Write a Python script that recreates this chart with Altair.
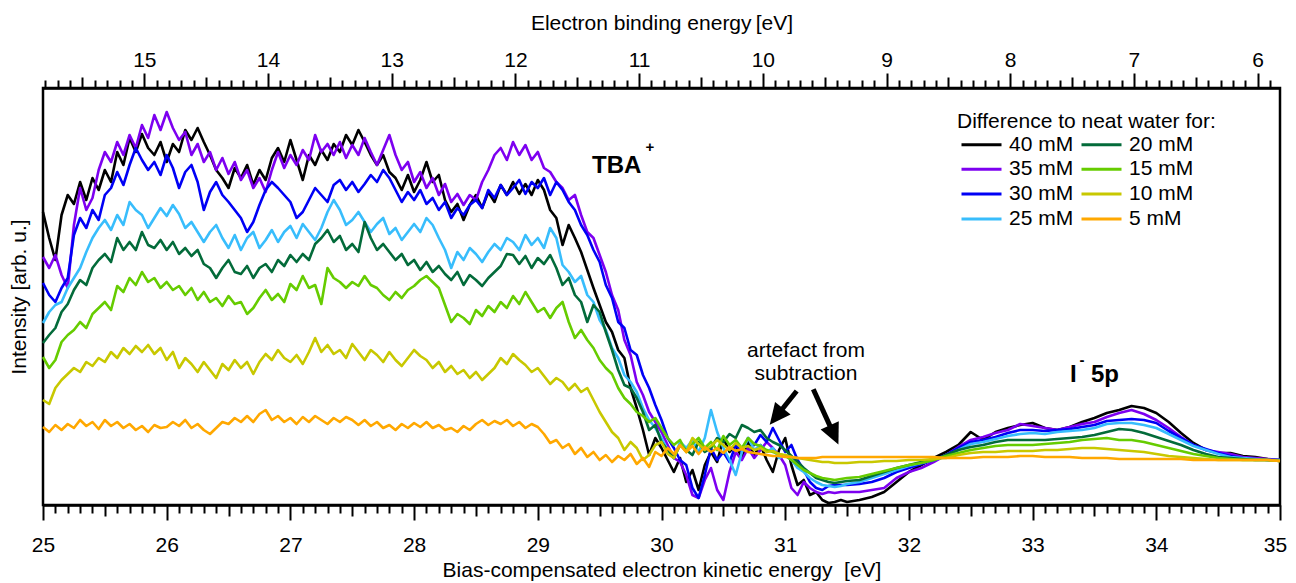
import altair as alt
import pandas as pd

# ---------------- energy grid (kinetic energy, eV) ----------------
KE_FINE = [round(25 + 0.05 * i, 2) for i in range(130)]    # 25.00 ... 31.45
KE_COARSE = [round(31.5 + 0.1 * i, 1) for i in range(36)]  # 31.5 ... 35.0
KE = KE_FINE + KE_COARSE

# ---------------- difference spectra (arb. u.) ----------------
c40 = [
    288, 262, 240, 285, 305, 296, 318, 300, 322, 310,
    330, 318, 348, 335, 362, 348, 366, 352, 345, 358,
    338, 356, 348, 370, 360, 372, 358, 345, 330, 322,
    312, 332, 322, 335, 315, 330, 320, 342, 352, 338,
    360, 340, 320, 345, 335, 350, 340, 356, 348, 365,
    355, 370, 358, 345, 335, 345, 328, 322, 310, 325,
    308, 320, 338, 318, 325, 300, 288, 296, 280, 295,
    305, 292, 308, 298, 315, 305, 318, 306, 316, 305,
    320, 310, 290, 282, 255, 275, 262, 248, 230, 212,
    195, 178, 168, 150, 142, 112, 92, 70, 45, 62,
    52, 40, 28, 42, 18, 30, 10, 35, 48, 38,
    62, 48, 55, 42, 58, 45, 55, 40, 28, 50,
    62, 35, 15, 20, 5, 8, 0, -3, -2, 0,
    -2, 0, 3, 8, 18, 28, 35, 42, 48, 55,
    68, 60, 68, 72, 75, 77, 72, 70, 73, 78,
    82, 87, 90, 94, 92, 87, 78, 67, 57, 50,
    47, 47, 44, 43, 41, 40]

c35 = [
    243, 232, 245, 225, 212, 275, 312, 290, 302, 330,
    348, 338, 358, 345, 365, 352, 375, 362, 385, 370,
    388, 372, 360, 368, 345, 356, 338, 348, 330, 342,
    326, 338, 320, 330, 312, 322, 308, 330, 348, 332,
    345, 335, 350, 340, 365, 348, 356, 345, 358, 342,
    355, 345, 362, 348, 335, 350, 365, 345, 330, 338,
    318, 328, 312, 322, 305, 316, 298, 306, 295, 305,
    300, 318, 330, 345, 352, 340, 358, 345, 355, 340,
    348, 332, 328, 318, 312, 300, 305, 285, 268, 262,
    245, 228, 205, 190, 160, 145, 118, 105, 88, 78,
    68, 55, 42, 38, 25, 5, 2, 20, 32, 10,
    0, 28, 48, 40, 52, 42, 50, 58, 52, 45,
    35, 12, 5, 18, 12, 8, 6, 8, 7, 8,
    8, 8, 10, 12, 22, 28, 32, 38, 45, 53,
    60, 63, 67, 70, 76, 74, 72, 70, 73, 76,
    78, 83, 87, 90, 86, 80, 72, 63, 55, 50,
    48, 46, 43, 42, 41, 40]

c30 = [
    217, 205, 198, 212, 222, 265, 282, 272, 290, 280,
    305, 312, 328, 315, 335, 352, 340, 330, 338, 325,
    345, 332, 312, 328, 335, 318, 290, 308, 318, 305,
    298, 290, 282, 268, 278, 295, 310, 318, 312, 305,
    298, 282, 288, 300, 312, 305, 298, 315, 320, 310,
    318, 308, 316, 325, 318, 330, 322, 310, 298, 308,
    300, 310, 296, 302, 290, 298, 282, 292, 285, 295,
    300, 292, 310, 302, 315, 305, 312, 320, 306, 318,
    312, 322, 305, 318, 310, 298, 290, 275, 265, 250,
    238, 215, 202, 178, 172, 150, 145, 125, 112, 95,
    80, 62, 52, 40, 35, 12, 2, 25, 52, 40,
    48, 38, 55, 48, 62, 55, 65, 58, 72, 60,
    48, 55, 40, 30, 18, 12, 10, 14, 15, 15,
    15, 16, 18, 22, 28, 32, 36, 40, 45, 52,
    58, 60, 63, 67, 70, 70, 69, 70, 71, 73,
    75, 79, 80, 81, 80, 77, 69, 62, 55, 51,
    47, 44, 42, 41, 40, 40]

c25 = [
    177, 188, 195, 198, 212, 222, 232, 248, 262, 272,
    280, 270, 285, 275, 298, 290, 285, 272, 282, 292,
    284, 295, 286, 272, 278, 268, 258, 268, 275, 262,
    252, 265, 250, 262, 268, 252, 260, 270, 258, 268,
    274, 262, 276, 268, 260, 272, 288, 300, 290, 275,
    280, 288, 278, 268, 276, 282, 266, 272, 260, 268,
    276, 268, 282, 275, 262, 250, 232, 248, 240, 252,
    246, 238, 248, 256, 250, 262, 258, 250, 265, 255,
    262, 252, 272, 262, 235, 228, 218, 224, 205, 198,
    180, 170, 152, 142, 125, 118, 108, 92, 80, 72,
    62, 50, 42, 58, 52, 60, 48, 62, 90, 68,
    52, 40, 25, 48, 62, 50, 55, 48, 52, 42,
    45, 40, 32, 28, 22, 18, 15, 14, 13, 14,
    16, 18, 22, 26, 30, 34, 37, 40, 44, 50,
    56, 58, 61, 64, 66, 67, 66, 68, 69, 70,
    72, 76, 77, 77, 75, 72, 66, 60, 54, 50,
    46, 43, 42, 41, 40, 40]

c20 = [
    157, 165, 172, 188, 196, 210, 220, 215, 232, 240,
    246, 238, 262, 250, 258, 250, 268, 255, 252, 260,
    250, 258, 246, 252, 244, 250, 236, 232, 222, 232,
    240, 228, 226, 234, 222, 232, 236, 228, 240, 234,
    245, 238, 246, 240, 256, 262, 270, 258, 264, 250,
    256, 248, 278, 262, 250, 256, 248, 240, 246, 235,
    240, 230, 238, 228, 234, 226, 220, 228, 215, 225,
    220, 214, 222, 228, 234, 246, 245, 236, 244, 232,
    242, 236, 245, 232, 215, 222, 205, 198, 178, 195,
    188, 168, 150, 130, 115, 112, 102, 88, 70, 75,
    58, 50, 42, 55, 50, 45, 58, 48, 52, 62,
    58, 66, 62, 75, 72, 68, 70, 62, 58, 55,
    50, 44, 38, 32, 27, 22, 20, 18, 17, 18,
    19, 20, 24, 28, 32, 35, 38, 40, 45, 50,
    53, 55, 58, 60, 60, 60, 60, 61, 62, 63,
    65, 68, 71, 70, 67, 63, 59, 55, 50, 46,
    43, 42, 41, 40, 40, 39]

c15 = [
    143, 132, 140, 158, 165, 170, 178, 172, 186, 192,
    198, 190, 214, 208, 222, 215, 228, 218, 222, 212,
    218, 210, 214, 205, 212, 200, 208, 198, 202, 194,
    204, 196, 198, 186, 192, 202, 210, 200, 206, 198,
    216, 210, 224, 212, 215, 196, 232, 222, 218, 212,
    218, 214, 224, 215, 212, 205, 200, 208, 202, 210,
    214, 220, 224, 218, 212, 195, 178, 186, 182, 176,
    190, 184, 194, 188, 198, 192, 204, 196, 208, 198,
    188, 192, 182, 192, 198, 178, 162, 170, 160, 152,
    140, 132, 126, 112, 102, 96, 88, 84, 78, 82,
    72, 62, 55, 60, 48, 56, 62, 52, 58, 50,
    64, 55, 60, 52, 62, 56, 54, 50, 48, 46,
    44, 40, 35, 30, 27, 24, 22, 21, 20, 21,
    22, 23, 26, 29, 32, 35, 37, 40, 44, 47,
    50, 52, 54, 55, 55, 55, 56, 57, 58, 60,
    61, 62, 60, 60, 58, 55, 52, 49, 46, 44,
    42, 41, 40, 40, 40, 39]

c10 = [
    100, 96, 112, 120, 126, 132, 128, 138, 134, 142,
    138, 148, 142, 152, 146, 154, 148, 155, 146, 152,
    140, 148, 132, 142, 136, 128, 138, 130, 122, 136,
    130, 140, 132, 138, 126, 138, 146, 140, 150, 142,
    138, 145, 136, 148, 162, 148, 155, 146, 150, 142,
    156, 148, 140, 150, 145, 138, 148, 140, 134, 142,
    150, 144, 140, 132, 138, 128, 134, 126, 130, 122,
    128, 120, 126, 132, 142, 136, 146, 140, 135, 128,
    132, 124, 116, 122, 118, 110, 116, 108, 112, 100,
    88, 78, 68, 62, 50, 58, 52, 40, 45, 55,
    58, 46, 42, 55, 48, 62, 56, 50, 54, 60,
    55, 50, 57, 52, 54, 50, 52, 48, 49, 46,
    45, 43, 42, 41, 40, 39, 38, 38, 37, 37,
    37, 38, 38, 39, 39, 40, 40, 41, 42, 45,
    47, 48, 48, 49, 49, 49, 50, 50, 51, 52,
    52, 51, 50, 49, 48, 46, 44, 43, 42, 41,
    40, 40, 40, 40, 40, 39]

c5 = [
    73, 68, 75, 70, 76, 72, 80, 74, 78, 71,
    80, 74, 78, 72, 76, 70, 74, 68, 75, 72,
    73, 78, 74, 80, 72, 76, 70, 66, 72, 78,
    76, 82, 78, 84, 78, 86, 90, 80, 84, 78,
    82, 76, 83, 78, 84, 80, 76, 82, 78, 83,
    80, 75, 80, 74, 78, 72, 75, 70, 76, 72,
    77, 73, 78, 72, 75, 70, 72, 68, 74, 70,
    76, 80, 75, 79, 76, 80, 74, 78, 72, 76,
    73, 66, 57, 60, 52, 56, 46, 52, 43, 48,
    40, 45, 38, 44, 40, 46, 36, 42, 33, 48,
    44, 52, 46, 55, 48, 54, 46, 53, 48, 52,
    47, 53, 49, 51, 48, 47, 46, 45, 44, 44,
    43, 43, 42, 42, 42, 42, 43, 43, 43, 43,
    43, 43, 43, 43, 43, 43, 43, 43, 42, 42,
    42, 43, 43, 43, 44, 44, 43, 43, 43, 42,
    42, 42, 41, 41, 41, 41, 41, 41, 40, 40,
    40, 40, 40, 40, 40, 39]

CONCS = ["40 mM", "35 mM", "30 mM", "25 mM", "20 mM", "15 mM", "10 mM", "5 mM"]
SERIES = {"40 mM": c40, "35 mM": c35, "30 mM": c30, "25 mM": c25,
          "20 mM": c20, "15 mM": c15, "10 mM": c10, "5 mM": c5}
COLOR_OF = {"40 mM": "#000000", "35 mM": "#7d00f0", "30 mM": "#0000f5", "25 mM": "#38bdfc",
            "20 mM": "#036b3a", "15 mM": "#66cc00", "10 mM": "#c8c800", "5 mM": "#ffa800"}

# axis tick positions / labels
KE_TICKS = [round(25 + 0.1 * i, 1) for i in range(101)]
BE_TICKS = [round(5.9 + 0.1 * i, 1) for i in range(100)]
BE_DOMAIN = [5.819, 15.819]

# annotations (data coordinates)
ANN_KE = [31.168, 31.168]
ANN_I = [143.3, 120.0]
ANN_T = ["artefact from", "subtraction"]
BOLD_KE = [29.438, 33.302, 33.472]
BOLD_I = [327.3, 118.0, 118.0]
BOLD_T = ["TBA", "I", "5p"]
SUP_KE = [29.907, 33.400]
SUP_I = [353.3, 140.4]
SUP_T = ["+", "-"]
ARROW_KE = [31.093, 31.227]
ARROW_I = [109.0, 110.7]
ARROW_KE2 = [30.928, 31.395]
ARROW_I2 = [83.5, 65.1]
ARROW_ANG = [218.7, 155.4]

FONT = "Liberation Sans, Arial, Helvetica, sans-serif"

rows = []
for name in CONCS:
    for k, v in zip(KE, SERIES[name]):
        rows.append({"ke": k, "I": v, "c": name})
df = pd.DataFrame(rows)

int_test = "abs(datum.value - round(datum.value)) < 0.01"
half_test = "abs(datum.value * 2 - round(datum.value * 2)) < 0.01"
tick_dash = {"condition": [{"test": int_test, "value": [40, 1]},
                           {"test": half_test, "value": [11, 40]}],
             "value": [8, 40]}
label_expr = f"{int_test} ? format(datum.value, 'd') : ''"

x_scale = alt.Scale(domain=[25, 35], nice=False, zero=False)
y_scale = alt.Scale(domain=[-5, 412], nice=False, zero=False)

bottom_axis = alt.Axis(
    orient="bottom", values=KE_TICKS, labelExpr=label_expr, tickSize=15, tickDash=tick_dash,
    labelPadding=14, labelFlush=False, labelOverlap=False, labelAngle=0, grid=False,
    labelOffset={"condition": {"test": "datum.value > 34.95", "value": -5}, "value": 0},
    title="Bias-compensated electron kinetic energy \u00a0[eV]", titlePadding=4)
left_axis = alt.Axis(title="Intensity [arb. u.]", labels=False, ticks=False, domain=False,
                     grid=False, titlePadding=14)
top_axis = alt.Axis(
    orient="top", values=BE_TICKS, labelExpr=label_expr, tickSize=15, tickDash=tick_dash,
    labelPadding=3, labelFlush=False, labelOverlap=False, labelAngle=0, grid=False,
    title="Electron binding energy\u2009[eV]", titlePadding=16)

legend = alt.Legend(
    title="Difference to neat water for:", orient="none", legendX=914, legendY=23,
    columns=2, symbolType="M-2,0H2", symbolSize=400, symbolStrokeWidth=3,
    symbolOffset=13, labelOffset=16,
    labelFontSize=21, titleFontSize=21, titleFontWeight="normal", titleLimit=500,
    columnPadding=1, rowPadding=2.8, titlePadding=1, padding=0,
    labelFont=FONT, titleFont=FONT, labelColor="black", titleColor="black")

color = alt.Color("c:N", scale=alt.Scale(domain=CONCS, range=[COLOR_OF[n] for n in CONCS]),
                  legend=legend)


def X(field):
    return alt.X(field, type="quantitative", scale=x_scale, axis=bottom_axis)


def Y(field):
    return alt.Y(field, type="quantitative", scale=y_scale, axis=left_axis)


line_layers = []
for name in CONCS:
    line_layers.append(
        alt.Chart(df).transform_filter(alt.datum.c == name)
        .mark_line(strokeWidth=2.6, strokeJoin="round")
        .encode(x=X("ke"), y=Y("I"), color=color)
    )

ann = alt.Chart(pd.DataFrame({"ke": ANN_KE, "I": ANN_I, "t": ANN_T})).mark_text(
    font=FONT, fontSize=21, align="center", baseline="alphabetic", color="black"
).encode(x=X("ke"), y=Y("I"), text="t:N")

bold = alt.Chart(pd.DataFrame({"ke": BOLD_KE, "I": BOLD_I, "t": BOLD_T})).mark_text(
    font=FONT, fontSize=24, fontWeight="bold", align="left", baseline="alphabetic", color="black"
).encode(x=X("ke"), y=Y("I"), text="t:N")

sup = alt.Chart(pd.DataFrame({"ke": SUP_KE, "I": SUP_I, "t": SUP_T})).mark_text(
    font=FONT, fontSize=15, fontWeight="bold", align="center", baseline="middle", color="black"
).encode(x=X("ke"), y=Y("I"), text="t:N")

arrows_df = pd.DataFrame({"ke": ARROW_KE, "I": ARROW_I, "ke2": ARROW_KE2, "I2": ARROW_I2,
                          "ang": ARROW_ANG})
shaft = alt.Chart(arrows_df).mark_rule(color="black", strokeWidth=5).encode(
    x=X("ke"), y=Y("I"), x2="ke2:Q", y2="I2:Q")
head = alt.Chart(arrows_df).mark_point(
    shape="M0,-1L0.95,1L-0.95,1Z", filled=True, size=441, color="black", opacity=1, strokeWidth=0
).encode(x=X("ke2"), y=Y("I2"), angle=alt.Angle("ang:Q", scale=None))

main = alt.layer(*line_layers, shaft, head, ann, bold, sup)

top = alt.Chart(pd.DataFrame({"be": [6.0, 15.0]})).mark_point(opacity=0).encode(
    x=alt.X("be:Q", scale=alt.Scale(domain=BE_DOMAIN, reverse=True, nice=False, zero=False),
            axis=top_axis))

chart = alt.layer(main, top).resolve_scale(x="independent").properties(
    width=1237, height=417,
    autosize=alt.AutoSizeParams(type="none"),
    padding={"left": 35, "top": 80, "right": 8, "bottom": 78},
).configure(font=FONT).configure_view(
    stroke="black", strokeWidth=2.5
).configure_axis(
    domainColor="black", domainWidth=2.5, tickColor="black", tickWidth=2,
    labelColor="black", titleColor="black", labelFont=FONT, titleFont=FONT,
    labelFontSize=21, titleFontSize=21, titleFontWeight="normal", grid=False
)

chart.save("out.html", embed_options={"renderer": "svg", "actions": False})
